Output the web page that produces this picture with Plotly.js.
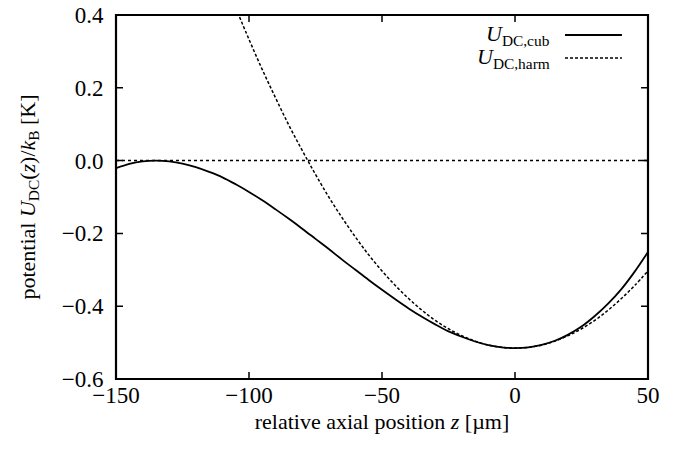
<!DOCTYPE html>
<html>
<head>
<meta charset="utf-8">
<script src="https://cdn.plot.ly/plotly-3.0.1.min.js"></script>
<style>html,body{margin:0;padding:0;background:#fff;}#plot{width:683px;height:450px;}</style>
</head>
<body>
<div id="plot"></div>
<script>
// relative axial position z [µm]
const zCub = [-150,-145,-140,-135,-130,-125,-120,-115,-110,-105,-100,-95,-90,-85,-80,-75,-70,-65,-60,-55,-50,-45,-40,-35,-30,-25,-20,-15,-10,-5,0,5,10,15,20,25,30,35,40,45,50];
// U_DC,cub [K]
const uCub = [-0.021,-0.009,-0.002,0.000,-0.002,-0.008,-0.018,-0.031,-0.046,-0.065,-0.086,-0.109,-0.134,-0.160,-0.187,-0.215,-0.243,-0.272,-0.300,-0.328,-0.355,-0.381,-0.406,-0.429,-0.450,-0.469,-0.484,-0.497,-0.507,-0.513,-0.515,-0.513,-0.506,-0.495,-0.478,-0.456,-0.427,-0.393,-0.353,-0.305,-0.251];
const zHarm = [-105,-100,-95,-90,-85,-80,-75,-70,-65,-60,-55,-50,-45,-40,-35,-30,-25,-20,-15,-10,-5,0,5,10,15,20,25,30,35,40,45,50];
// U_DC,harm [K]
const uHarm = [0.420,0.333,0.250,0.172,0.097,0.028,-0.038,-0.100,-0.157,-0.210,-0.259,-0.303,-0.343,-0.379,-0.411,-0.439,-0.462,-0.481,-0.496,-0.507,-0.513,-0.515,-0.513,-0.507,-0.496,-0.481,-0.462,-0.439,-0.411,-0.379,-0.343,-0.303];
const xTicks = [-150,-100,-50,0,50];
const yTicks = [-0.6,-0.4,-0.2,0.0,0.2,0.4];
const xRange = [-150, 50];
const yRange = [-0.6, 0.4];
const seriesNames = ['<i>U</i><sub>DC,cub</sub>','<i>U</i><sub>DC,harm</sub>'];

const FONT = 'Liberation Serif, DejaVu Serif, serif';
const PLOT_W = 683 - 116 - 35, PLOT_H = 450 - 15 - 71, TICKLEN = 7;

const traces = [
  {x: zCub, y: uCub, mode: 'lines', name: seriesNames[0], line: {color: '#000', width: 1.8, shape: 'spline'}, showlegend: false},
  {x: zHarm, y: uHarm, mode: 'lines', name: seriesNames[1], line: {color: '#000', width: 1.5, dash: '3px,2px', shape: 'spline'}, showlegend: false}
];

// inward tick marks on all four sides, built from the tick arrays as one path
const tx = TICKLEN / PLOT_W, ty = TICKLEN / PLOT_H;
let tickPath = '';
xTicks.forEach(v => {
  const p = ((v - xRange[0]) / (xRange[1] - xRange[0])).toFixed(5);
  tickPath += `M${p},0L${p},${ty.toFixed(5)}M${p},1L${p},${(1 - ty).toFixed(5)}`;
});
yTicks.forEach(v => {
  const p = ((v - yRange[0]) / (yRange[1] - yRange[0])).toFixed(5);
  tickPath += `M0,${p}L${tx.toFixed(5)},${p}M1,${p}L${(1 - tx).toFixed(5)},${p}`;
});

const shapes = [
  {type: 'line', xref: 'paper', yref: 'y', x0: 0, x1: 1, y0: 0, y1: 0, line: {color: '#000', width: 1.5, dash: 'dot'}},
  {type: 'path', xref: 'paper', yref: 'paper', path: tickPath, line: {color: '#000', width: 1.5}},
  {type: 'rect', xref: 'paper', yref: 'paper', x0: 0, x1: 1, y0: 0, y1: 1, line: {color: '#000', width: 2.2}, fillcolor: 'rgba(0,0,0,0)'},
  // legend samples
  {type: 'line', xref: 'paper', yref: 'paper', x0: 0.844, x1: 0.951, y0: 0.945, y1: 0.945, line: {color: '#000', width: 1.8}},
  {type: 'line', xref: 'paper', yref: 'paper', x0: 0.844, x1: 0.951, y0: 0.882, y1: 0.882, line: {color: '#000', width: 1.5, dash: '3px,2px'}}
];

const layout = {
  width: 683, height: 450,
  margin: {l: 116, r: 35, t: 15, b: 71},
  paper_bgcolor: '#fff', plot_bgcolor: '#fff',
  font: {family: FONT, color: '#000', size: 22},
  showlegend: false,
  xaxis: {
    range: xRange, tickmode: 'array', tickvals: xTicks,
    ticktext: xTicks.map(v => v < 0 ? '\u2212' + Math.abs(v) : String(v)),
    showline: false, ticks: '', showgrid: false, zeroline: false,
    tickfont: {family: FONT, size: 23, color: '#000'},
    title: {text: 'relative axial position <i>z</i> [µm]', font: {family: FONT, size: 22, color: '#000'}, standoff: 6}
  },
  yaxis: {
    range: yRange, tickmode: 'array', tickvals: yTicks,
    ticktext: yTicks.map(v => (v < 0 ? '\u2212' : '') + Math.abs(v).toFixed(1) + '\u2002'),
    showline: false, ticks: '', showgrid: false, zeroline: false,
    tickfont: {family: FONT, size: 23, color: '#000'},
    title: {text: 'potential <i>U</i><sub>DC</sub>(<i>z</i>)/<i>k</i><sub>B</sub> [K]', font: {family: FONT, size: 22, color: '#000'}, standoff: 20}
  },
  shapes: shapes,
  annotations: [
    {xref: 'paper', yref: 'paper', x: 0.8195, y: 0.945, xanchor: 'right', yanchor: 'middle', showarrow: false, text: seriesNames[0], font: {family: FONT, size: 22, color: '#000'}},
    {xref: 'paper', yref: 'paper', x: 0.8195, y: 0.882, xanchor: 'right', yanchor: 'middle', showarrow: false, text: seriesNames[1], font: {family: FONT, size: 22, color: '#000'}}
  ]
};

Plotly.newPlot('plot', traces, layout, {displayModeBar: false});
</script>
</body>
</html>
